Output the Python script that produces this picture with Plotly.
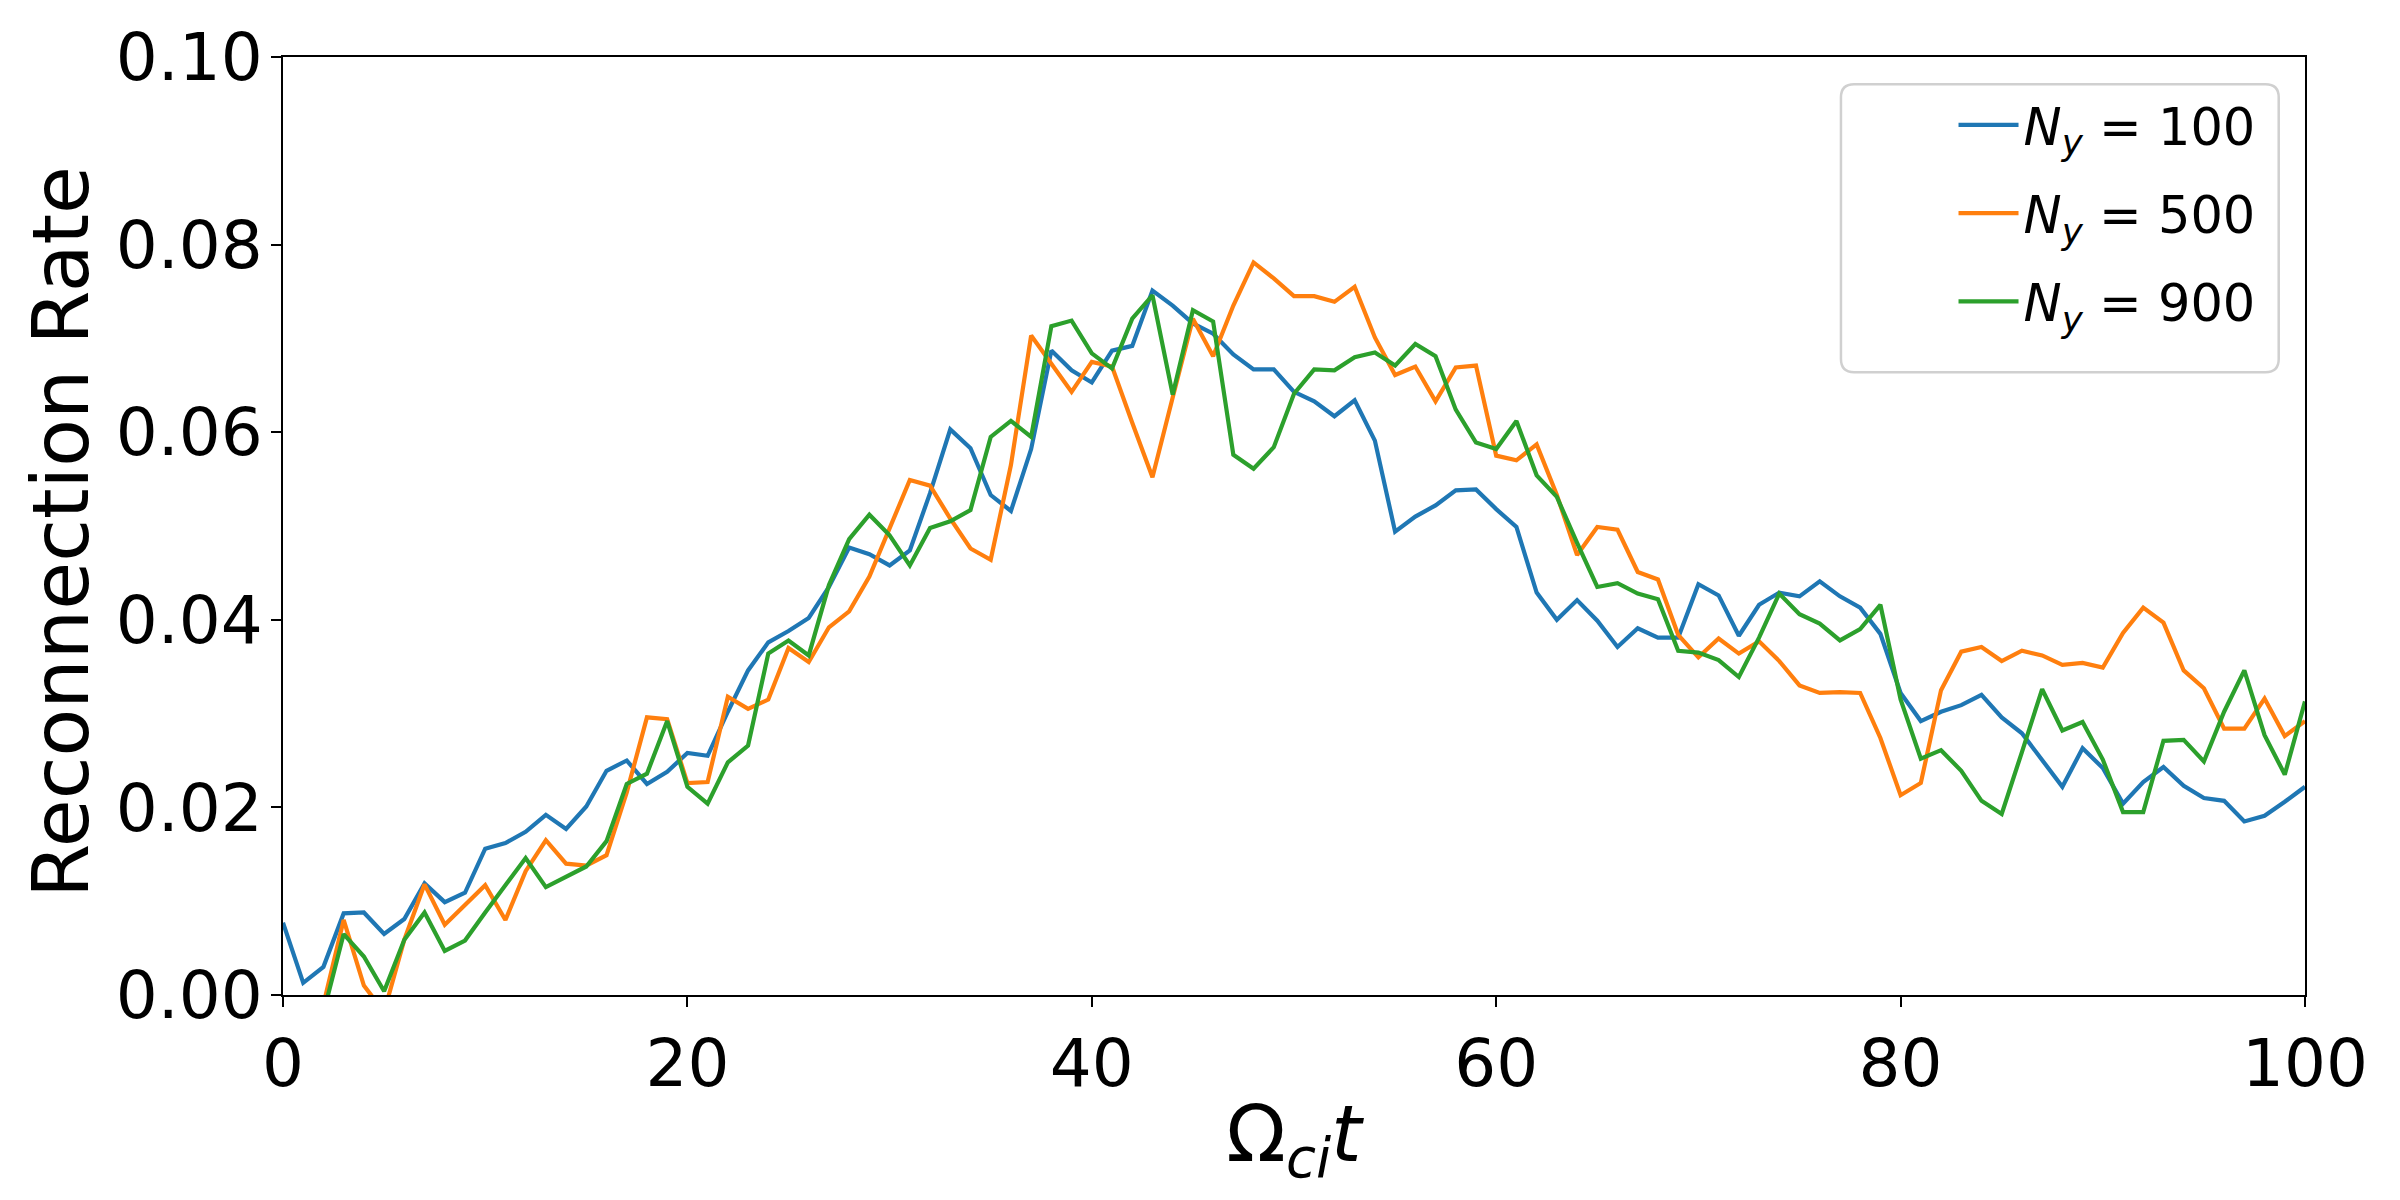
import plotly.graph_objects as go

# time axis (Omega_ci t) and reconnection rate for each grid size
T = list(range(101))

NY100 = [0.0077, 0.0013, 0.0030, 0.0087, 0.0088, 0.0065, 0.0081, 0.0119, 0.0099, 0.0109,
         0.0156, 0.0162, 0.0174, 0.0192, 0.0177, 0.0201, 0.0239, 0.0250, 0.0225, 0.0238,
         0.0258, 0.0255, 0.0302, 0.0346, 0.0376, 0.0388, 0.0402, 0.0435, 0.0477, 0.0470,
         0.0458, 0.0474, 0.0535, 0.0603, 0.0583, 0.0533, 0.0516, 0.0582, 0.0687, 0.0666,
         0.0653, 0.0687, 0.0692, 0.0751, 0.0735, 0.0716, 0.0705, 0.0683, 0.0667, 0.0667,
         0.0643, 0.0633, 0.0617, 0.0634, 0.0591, 0.0494, 0.0510, 0.0522, 0.0538, 0.0539,
         0.0518, 0.0499, 0.0429, 0.0400, 0.0421, 0.0399, 0.0371, 0.0391, 0.0381, 0.0381,
         0.0438, 0.0426, 0.0383, 0.0416, 0.0429, 0.0425, 0.0441, 0.0425, 0.0413, 0.0385,
         0.0322, 0.0292, 0.0302, 0.0309, 0.0320, 0.0296, 0.0279, 0.0251, 0.0222, 0.0263,
         0.0242, 0.0204, 0.0227, 0.0243, 0.0223, 0.0210, 0.0207, 0.0185, 0.0191, 0.0206,
         0.0222]

NY500 = [-0.0040, -0.0060, -0.0010, 0.0080, 0.0010, -0.0018, 0.0059, 0.0118, 0.0075, 0.0096,
         0.0117, 0.0080, 0.0132, 0.0165, 0.0140, 0.0138, 0.0149, 0.0216, 0.0296, 0.0294,
         0.0226, 0.0227, 0.0318, 0.0305, 0.0315, 0.0370, 0.0355, 0.0392, 0.0409, 0.0446,
         0.0498, 0.0549, 0.0543, 0.0508, 0.0476, 0.0464, 0.0565, 0.0703, 0.0673, 0.0643,
         0.0675, 0.0670, 0.0610, 0.0552, 0.0637, 0.0721, 0.0681, 0.0735, 0.0781, 0.0764,
         0.0745, 0.0745, 0.0739, 0.0755, 0.0701, 0.0661, 0.0670, 0.0633, 0.0669, 0.0671,
         0.0575, 0.0570, 0.0587, 0.0533, 0.0469, 0.0499, 0.0496, 0.0451, 0.0443, 0.0384,
         0.0360, 0.0380, 0.0364, 0.0377, 0.0356, 0.0330, 0.0322, 0.0323, 0.0322, 0.0274,
         0.0213, 0.0226, 0.0325, 0.0366, 0.0371, 0.0356, 0.0367, 0.0362, 0.0352, 0.0354,
         0.0349, 0.0386, 0.0413, 0.0397, 0.0346, 0.0327, 0.0284, 0.0284, 0.0316, 0.0276,
         0.0292]

NY900 = [-0.0030, -0.0050, -0.0019, 0.0065, 0.0041, 0.0004, 0.0059, 0.0088, 0.0047, 0.0058,
         0.0088, 0.0117, 0.0146, 0.0115, 0.0126, 0.0137, 0.0164, 0.0225, 0.0236, 0.0292,
         0.0222, 0.0204, 0.0248, 0.0266, 0.0364, 0.0378, 0.0362, 0.0437, 0.0486, 0.0512,
         0.0490, 0.0458, 0.0498, 0.0505, 0.0517, 0.0595, 0.0612, 0.0595, 0.0713, 0.0719,
         0.0684, 0.0668, 0.0721, 0.0746, 0.0640, 0.0730, 0.0718, 0.0576, 0.0561, 0.0584,
         0.0641, 0.0667, 0.0666, 0.0680, 0.0685, 0.0671, 0.0694, 0.0681, 0.0624, 0.0589,
         0.0582, 0.0612, 0.0554, 0.0531, 0.0482, 0.0435, 0.0439, 0.0428, 0.0422, 0.0367,
         0.0365, 0.0357, 0.0339, 0.0381, 0.0428, 0.0406, 0.0396, 0.0378, 0.0390, 0.0416,
         0.0315, 0.0252, 0.0261, 0.0239, 0.0207, 0.0193, 0.0259, 0.0326, 0.0282, 0.0291,
         0.0251, 0.0195, 0.0195, 0.0271, 0.0272, 0.0249, 0.0302, 0.0346, 0.0277, 0.0235,
         0.0313]

SERIES = [
    ('<i>N</i><sub><i>y</i></sub> = 100', NY100, '#1f77b4'),
    ('<i>N</i><sub><i>y</i></sub> = 500', NY500, '#ff7f0e'),
    ('<i>N</i><sub><i>y</i></sub> = 900', NY900, '#2ca02c'),
]

FONT = 'DejaVu Sans'

fig = go.Figure()
for i, (name, vals, color) in enumerate(SERIES):
    fig.add_trace(go.Scatter(
        x=T, y=vals, mode='lines', name=name,
        legendgroup=f'g{i}',
        line=dict(color=color, width=4.2),
    ))

axis_common = dict(
    showline=True, linecolor='black', linewidth=2.2, mirror=True,
    ticks='outside', ticklen=10, tickwidth=2.2, tickcolor='black',
    showgrid=False, zeroline=False, automargin=False,
    tickfont=dict(family=FONT, size=66, color='black'),
)

# rounded legend frame like matplotlib's fancybox
rx, ry = 0.0065, 0.014
x0, x1, y0, y1 = 0.7705, 0.987, 0.664, 0.971
frame = (f'M{x0+rx},{y0} L{x1-rx},{y0} Q{x1},{y0} {x1},{y0+ry} '
         f'L{x1},{y1-ry} Q{x1},{y1} {x1-rx},{y1} L{x0+rx},{y1} '
         f'Q{x0},{y1} {x0},{y1-ry} L{x0},{y0+ry} Q{x0},{y0} {x0+rx},{y0} Z')

# page body adds an 8px offset, so the figure is 8px smaller than the window
fig.update_layout(
    width=2392, height=1192,
    plot_bgcolor='white', paper_bgcolor='white',
    margin=dict(l=275, r=95, t=49, b=205, autoexpand=False),
    font=dict(family=FONT, color='black'),
    xaxis=dict(axis_common, range=[0, 100], tickvals=[0, 20, 40, 60, 80, 100],
               title=dict(text='Ω<sub><i>ci</i></sub><i>t</i>',
                          font=dict(family=FONT, size=78), standoff=5)),
    yaxis=dict(axis_common, range=[0, 0.1], dtick=0.02, tickformat='.2f',
               ticklabelstandoff=-5),
    legend=dict(x=0.978, xanchor='right', y=0.97, yanchor='top',
                bgcolor='rgba(0,0,0,0)', borderwidth=0,
                font=dict(family=FONT, size=51, color='black'),
                tracegroupgap=19, itemwidth=60),
    shapes=[dict(type='path', xref='paper', yref='paper', path=frame,
                 line=dict(color='#d0d0d0', width=2.5),
                 fillcolor='rgba(255,255,255,0.8)', layer='above')],
    annotations=[dict(text='Reconnection Rate', textangle=-90,
                      xref='paper', yref='paper', x=0, y=0.5,
                      xanchor='center', yanchor='middle',
                      xshift=-222, yshift=-6, showarrow=False,
                      font=dict(family=FONT, size=78, color='black'))],
)

fig.write_html('out.html')
